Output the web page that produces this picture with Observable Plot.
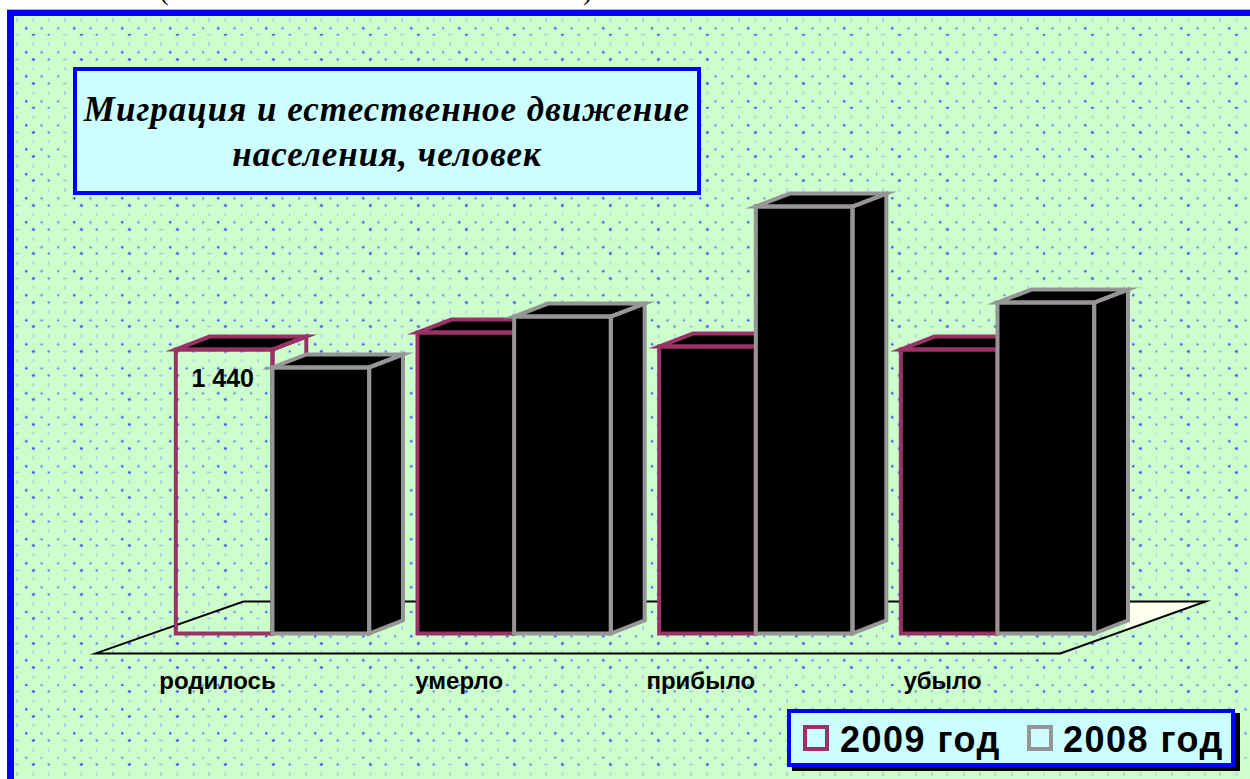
<!DOCTYPE html>
<html lang="ru">
<head>
<meta charset="utf-8">
<script src="https://cdn.jsdelivr.net/npm/d3@7"></script>
<script src="https://cdn.jsdelivr.net/npm/@observablehq/plot@0.6"></script>
<style>
html,body{margin:0;padding:0;background:#fff;width:1250px;height:779px;overflow:hidden}
#paren1,#paren2{position:absolute;font:26px "Liberation Serif",serif;color:#000;line-height:26px;top:-21px}
#paren1{left:160px}#paren2{left:583px}
#panel{position:absolute;left:7px;top:10px;width:1243px;height:769px;box-sizing:border-box;border-left:7px solid #0000ff;border-top:6px solid #0000ff;box-shadow:0 -1px 0 #a8a8e8;background-color:#ccffcc;background-size:48.15px 24.33px;background-position:-5px 0}
#chart{position:absolute;left:0;top:0}
#chart svg{display:block;background:transparent}
#title{position:absolute;left:73px;top:67px;width:628px;height:128px;box-sizing:border-box;border:4px solid #0000ff;background:#ccffff;font:italic bold 35px/45px "Liberation Serif",serif;letter-spacing:1px;text-align:center;color:#000;padding-top:16px}
#legend{position:absolute;left:787px;top:709px;width:448px;height:58px;box-sizing:border-box;border:4px solid #0000ff;background:#ccffff;box-shadow:5px 4px 0 #000;font:bold 36px "Liberation Sans",sans-serif;letter-spacing:1.5px;color:#000}
#legend span.sw{position:absolute;top:12px;width:26px;height:26px;box-sizing:border-box;border:4px solid}
#legend span.tx{position:absolute;top:6px;line-height:42px;white-space:nowrap}
</style>
</head>
<body>
<div id="paren1">(</div><div id="paren2">)</div>
<div id="panel"></div>
<div id="chart"></div>
<div id="title">Миграция и естественное движение<br>населения, человек</div>
<div id="legend"></div>
<script>
const categories = ["родилось", "умерло", "прибыло", "убыло"];
const values2009 = [1440, 1526, 1455, 1440];
const values2008 = [1349, 1607, 2165, 1678];
const seriesNames = ["2009 год", "2008 год"];
const seriesColors = ["#993366", "#969696"];
const hollowBars2009 = ["родилось"];
const floorX = [-0.732, 3.26, 3.861, -0.12];
const floorY = [-101, -101, 162, 162];
const creamX = [3.546, 3.861, 3.505, 3.546];
const creamY = [152, 162, 5, 61];

// Backdrop tile
const tile = `<svg xmlns="http://www.w3.org/2000/svg" width="48.15" height="24.33"><g fill="#8fb0e6"><ellipse cx="8" cy="4" rx="1" ry="2.4" fill-opacity=".6"/><ellipse cx="24" cy="4" rx="1.5" ry="2.2" fill-opacity=".3"/><ellipse cx="40" cy="4" rx="1" ry="2.4" fill-opacity=".45"/><ellipse cx="8" cy="19" rx="2.4" ry="1" fill-opacity=".6"/><circle cx="17" cy="12" r="2.2" fill-opacity=".35"/><circle cx="33" cy="12" r="2" fill-opacity=".35"/><circle cx="1" cy="12" r="2" fill-opacity=".35"/><circle cx="24" cy="19" r="2.2" fill-opacity=".4"/><circle cx="40" cy="19" r="2" fill-opacity=".35"/></g><g fill="#3350ee"><circle cx="17" cy="12" r="1.1"/><circle cx="33" cy="12" r="0.9" fill-opacity=".75"/><circle cx="1" cy="12" r="0.9" fill-opacity=".75"/><circle cx="24" cy="19" r="1.2"/><circle cx="40" cy="19" r="0.9" fill-opacity=".75"/></g></svg>`;
document.getElementById("panel").style.backgroundImage = `url("data:image/svg+xml,${encodeURIComponent(tile)}")`;

const BAR = 0.4, DX = 0.14, DY = 66;
const faces = [];
function addBars(vals, series, offset) {
  vals.forEach((v, i) => {
    const a = i + offset, b = a + BAR;
    const hollow = series === 0 && hollowBars2009.includes(categories[i]);
    const add = (name, pts, open) => pts.forEach(([x, y]) => faces.push({id: `${series}-${i}-${name}`, x, y, series, open}));
    add("front", [[a, 0], [b, 0], [b, v], [a, v]], hollow);
    add("side", [[b, 0], [b + DX, DY], [b + DX, v + DY], [b, v]], hollow);
    add("top", [[a, v], [b, v], [b + DX, v + DY], [a + DX, v + DY]], false);
  });
}
addBars(values2009, 0, -BAR);
addBars(values2008, 1, 0);

const floor = floorX.map((x, i) => ({x, y: floorY[i]}));
const cream = creamX.map((x, i) => ({x, y: creamY[i]}));
const fmt = d3.formatLocale({thousands: " ", grouping: [3], decimal: ",", currency: ["", ""]}).format(",");

const faceStyle = {x: "x", y: "y", z: "id", curve: "linear-closed", strokeWidth: 4, strokeLinejoin: "miter", strokeMiterlimit: 10};
const seriesMarks = s => {
  const fs = faces.filter(d => d.series === s);
  return [
    Plot.line(fs.filter(d => !d.open), {...faceStyle, fill: "#000", stroke: "none"}),
    Plot.line(fs, {...faceStyle, fill: "none", stroke: seriesColors[s]})
  ];
};
const chart = Plot.plot({
  width: 1250, height: 779, margin: 0,
  style: {background: "transparent"},
  x: {domain: [-1, 4], range: [30.33, 1238.67], axis: null},
  y: {domain: [0, 3210], range: [633, 0], axis: null},
  marks: [
    Plot.line(cream, {x: "x", y: "y", curve: "linear-closed", fill: "#ffffee", stroke: "none"}),
    Plot.line(floor, {x: "x", y: "y", curve: "linear-closed", stroke: "#000", strokeWidth: 2, strokeLinejoin: "miter", strokeMiterlimit: 10}),
    ...seriesMarks(0),
    ...seriesMarks(1),
    Plot.text([0], {x: () => -BAR / 2, y: () => values2009[0], text: () => fmt(values2009[0]), dx: -1.5, dy: 29, fontFamily: "Liberation Sans", fontWeight: "bold", fontSize: 25, fill: "#000", textAnchor: "middle"}),
    Plot.text(categories, {x: (d, i) => i, y: () => -242, text: d => d, dx: -55, fontFamily: "Liberation Sans", fontWeight: "bold", fontSize: 24, letterSpacing: "-0.4px", fill: "#000", textAnchor: "middle"})
  ]
});
document.getElementById("chart").append(chart);

const leg = document.getElementById("legend");
[[12, 49], [236, 272]].forEach(([swX, txX], i) => {
  const s = document.createElement("span");
  s.className = "sw"; s.style.left = swX + "px"; s.style.borderColor = seriesColors[i];
  const t = document.createElement("span");
  t.className = "tx"; t.style.left = txX + "px"; t.textContent = seriesNames[i];
  leg.append(s, t);
});
</script>
</body>
</html>
